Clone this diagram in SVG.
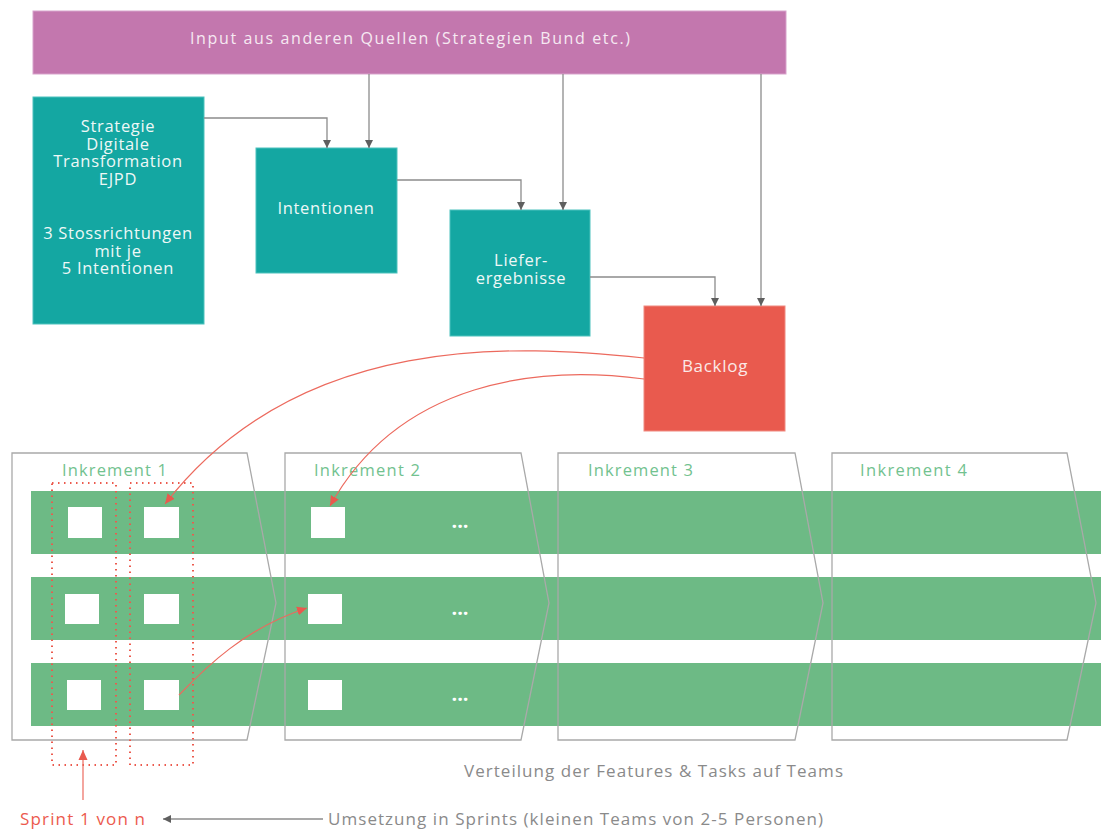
<svg xmlns="http://www.w3.org/2000/svg" width="1101" height="829" viewBox="0 0 1101 829">
<style>
.box{stroke-width:1}
.teal{fill:#14a7a2;stroke:#4cc2bd}
.wt{fill:#eef8f7;font-family:"Open Sans","Liberation Sans",sans-serif;font-size:16.5px;letter-spacing:0.7px;text-anchor:middle}
.conn{fill:none;stroke:#8c8c8c;stroke-width:1.3}
.red{fill:none;stroke:#ec6a5e;stroke-width:1.2}
.band{fill:#6dba85}
.sq{fill:#ffffff}
.chev{fill:none;stroke:#a9a9a9;stroke-width:1.3}
.ink{fill:#72c28f;font-family:"Open Sans","Liberation Sans",sans-serif;font-size:16.5px}
.dot{fill:none;stroke:#ec5a4e;stroke-width:2;stroke-dasharray:1.5 4.5}
.gt{fill:#8a8a8a;font-family:"Open Sans","Liberation Sans",sans-serif;font-size:17px}
.dots{fill:#ffffff;font-family:"Open Sans","Liberation Sans",sans-serif;font-size:20px;font-weight:bold;text-anchor:middle}
</style>
<defs>
<marker id="ag" markerUnits="userSpaceOnUse" markerWidth="8" markerHeight="8" refX="8" refY="4" orient="auto"><path d="M0,0 L8,4 L0,8 z" fill="#5f5f5f"/></marker>
<marker id="ar" markerUnits="userSpaceOnUse" markerWidth="10" markerHeight="10" refX="10" refY="5" orient="auto"><path d="M0,0.5 L10,5 L0,9.5 z" fill="#e95a4e"/></marker>
</defs>

<g id="sprint-bands">
<rect class="band" x="31" y="491" width="1070" height="63"/>
<rect class="band" x="31" y="577" width="1070" height="63"/>
<rect class="band" x="31" y="663" width="1070" height="63"/>
</g>

<g id="inkrement-1">
<polygon class="chev" points="12,453 247,453 276,603 247,740 12,740"/>
<text class="ink" x="62" y="476" textLength="105" lengthAdjust="spacing">Inkrement 1</text>
<rect class="sq" x="68" y="507" width="34" height="31"/>
<rect class="sq" x="144" y="507" width="35" height="31"/>
<rect class="sq" x="65" y="594" width="34" height="30"/>
<rect class="sq" x="144" y="594" width="35" height="30"/>
<rect class="sq" x="67" y="680" width="34" height="30"/>
<rect class="sq" x="144" y="680" width="35" height="30"/>
</g>

<g id="inkrement-2">
<polygon class="chev" points="285,453 521,453 549,603 521,740 285,740"/>
<text class="ink" x="314" y="476" textLength="106" lengthAdjust="spacing">Inkrement 2</text>
<rect class="sq" x="311" y="507" width="34" height="31"/>
<rect class="sq" x="308" y="594" width="34" height="30"/>
<rect class="sq" x="308" y="680" width="34" height="30"/>
<text class="dots" x="460" y="528">...</text>
<text class="dots" x="460" y="615">...</text>
<text class="dots" x="460" y="701">...</text>
</g>

<g id="inkrement-3">
<polygon class="chev" points="558,453 795,453 823,603 795,740 558,740"/>
<text class="ink" x="588" y="476" textLength="105" lengthAdjust="spacing">Inkrement 3</text>
</g>

<g id="inkrement-4">
<polygon class="chev" points="832,453 1067,453 1096,603 1067,740 832,740"/>
<text class="ink" x="860" y="476" textLength="107" lengthAdjust="spacing">Inkrement 4</text>
</g>

<g id="sprint-frames">
<rect class="dot" x="52" y="483" width="64" height="282"/>
<rect class="dot" x="130" y="483" width="63" height="282"/>
</g>

<g id="input">
<rect x="33" y="11" width="753" height="63" fill="#c377ae" stroke="#d7a3cb" stroke-width="1"/>
<text x="410" y="44" fill="#f6e9f2" font-family="'Open Sans','Liberation Sans',sans-serif" font-size="16" text-anchor="middle" textLength="440" lengthAdjust="spacing">Input aus anderen Quellen (Strategien Bund etc.)</text>
</g>

<g id="strategie">
<rect class="teal box" x="33" y="97" width="171" height="227"/>
<text class="wt" x="118" y="132">Strategie</text>
<text class="wt" x="118" y="149.5">Digitale</text>
<text class="wt" x="118" y="167">Transformation</text>
<text class="wt" x="118" y="184.5">EJPD</text>
<text class="wt" x="118" y="239">3 Stossrichtungen</text>
<text class="wt" x="118" y="256.5">mit je</text>
<text class="wt" x="118" y="274">5 Intentionen</text>
</g>

<g id="intentionen">
<rect class="teal box" x="256" y="148" width="141" height="125"/>
<text class="wt" x="326" y="214">Intentionen</text>
</g>

<g id="lieferergebnisse">
<rect class="teal box" x="450" y="210" width="140" height="126"/>
<text class="wt" x="521" y="266">Liefer-</text>
<text class="wt" x="521" y="283.5">ergebnisse</text>
</g>

<g id="backlog">
<rect x="644" y="306" width="141" height="125" fill="#e95a4e" stroke="#f08a80" stroke-width="1"/>
<text class="wt" x="715" y="372" style="font-size:17px;fill:#fbe9e7">Backlog</text>
</g>

<g id="connectors">
<path class="conn" d="M204,118 H327 V148" marker-end="url(#ag)"/>
<path class="conn" d="M369,74 V148" marker-end="url(#ag)"/>
<path class="conn" d="M397,180 H521 V210" marker-end="url(#ag)"/>
<path class="conn" d="M563,74 V210" marker-end="url(#ag)"/>
<path class="conn" d="M590,277 H715 V306" marker-end="url(#ag)"/>
<path class="conn" d="M761,74 V306" marker-end="url(#ag)"/>
<path class="red" d="M644,358 C520,345 300,330 165,504" marker-end="url(#ar)"/>
<path class="red" d="M644,379 C540,365 400,380 330,506" marker-end="url(#ar)"/>
<path class="red" d="M179,695 C205,668 245,628 307,608" marker-end="url(#ar)"/>
<path class="red" d="M83,800 V750" marker-end="url(#ar)"/>
<path class="conn" d="M323,819 H163" marker-end="url(#ag)"/>
</g>

<g id="labels">
<text class="gt" x="464" y="777" textLength="379" lengthAdjust="spacing">Verteilung der Features &amp; Tasks auf Teams</text>
<text class="gt" x="328" y="825" textLength="495" lengthAdjust="spacing">Umsetzung in Sprints (kleinen Teams von 2-5 Personen)</text>
<text class="gt" x="20" y="825" style="fill:#ec5a4e" textLength="125" lengthAdjust="spacing">Sprint 1 von n</text>
</g>
</svg>
